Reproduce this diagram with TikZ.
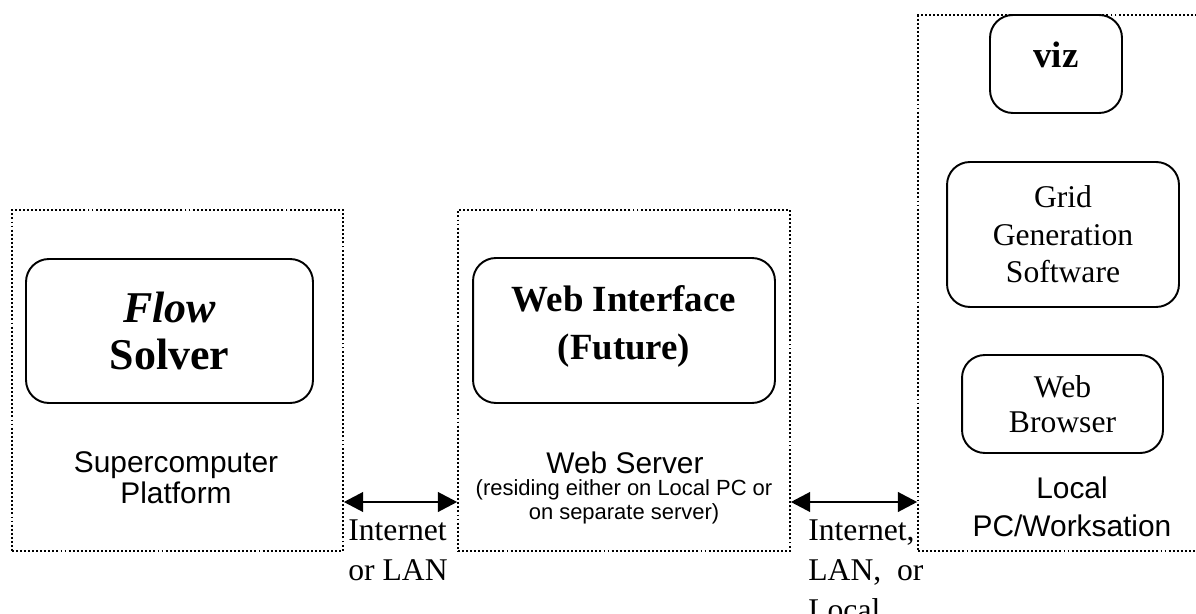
\documentclass[tikz,border=0pt]{standalone}
\usepackage{fontspec}
\setmainfont{Liberation Serif}
\newfontfamily\arialfont{Liberation Sans}
\usetikzlibrary{arrows.meta}
\tikzset{
  platform/.style={draw=black, line width=0.9pt, dash pattern=on 1.1pt off 1.2pt, inner sep=0pt},
  prog/.style={draw=black, line width=1.1pt, rounded corners=13pt, align=center, inner sep=0pt},
  link/.style={black, line width=1.7pt, {Triangle[length=11pt,width=11pt]}-{Triangle[length=11pt,width=11pt]}},
  caption/.style={font=\arialfont\fontsize{17}{17.5}\selectfont, align=center, inner sep=0pt},
  medium/.style={font=\fontsize{18}{22.8}\selectfont, align=left, anchor=west, inner sep=0pt}
}

\begin{document}
\begin{tikzpicture}[x=0.02cm, y=-0.02cm]
  \useasboundingbox[fill=white] (0,0) rectangle (1196,614);

  % machines
  \node[platform, minimum width=6.62cm, minimum height=6.82cm] (super) at (177.5,380.5) {};
  \node[platform, minimum width=6.64cm, minimum height=6.82cm] (server) at (624,380.5) {};
  \node[platform, minimum width=5.84cm, minimum height=10.72cm] (local) at (1064,283) {};

  % programs
  \node[prog, minimum width=5.74cm, minimum height=2.88cm, font=\fontsize{25}{27}\selectfont\bfseries] (solver) at (169.5,331) {\textit{Flow}\\Solver};
  \node[prog, minimum width=6.04cm, minimum height=2.9cm, text depth=9pt, font=\fontsize{21}{27}\selectfont\bfseries] (webint) at (624,330.5) {Web Interface\\(Future)};
  \node[prog, minimum width=2.64cm, minimum height=1.96cm, text depth=11pt, font=\fontsize{21}{25}\selectfont\bfseries] (viz) at (1056,64) {viz};
  \node[prog, minimum width=4.64cm, minimum height=2.9cm, font=\fontsize{18}{21.3}\selectfont] (grid) at (1063,234.5) {Grid\\Generation\\Software};
  \node[prog, minimum width=4.02cm, minimum height=1.96cm, font=\fontsize{18}{20}\selectfont] (browser) at (1062.5,404) {Web\\Browser};

  % captions
  \node[caption] (supercap) at (176,478) {Supercomputer\\Platform};
  \node[caption] (servercap) at (625,463) {Web Server};
  \node[caption, font=\arialfont\fontsize{12.5}{13.5}\selectfont] (servernote) at (624,502) {(residing either on Local PC or\\on separate server)};
  \node[caption, font=\arialfont\fontsize{17}{21.6}\selectfont] (localcap) at (1072,507) {Local\\PC/Worksation};

  % connections
  \coordinate (linky) at (0,502);
  \draw[link] (super.east |- linky) -- (server.west |- linky);
  \draw[link] (server.east |- linky) -- (local.west |- linky);
  \node[medium] (lan) at (348,550) {Internet\\or LAN};
  \node[medium] (wan) at (808,570) {Internet,\\LAN,~ or\\Local};
\end{tikzpicture}
\end{document}
